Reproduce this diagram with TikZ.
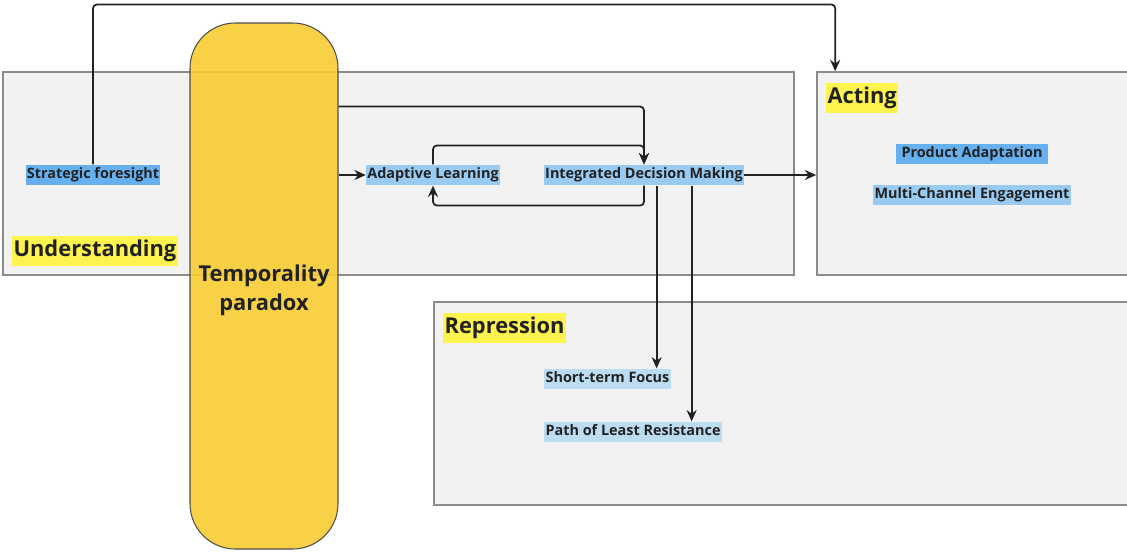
\documentclass[tikz,border=0pt]{standalone}
\usepackage{fontspec}
\setmainfont{Open Sans}
\usetikzlibrary{arrows.meta,calc,positioning,fit}
\definecolor{panelgray}{HTML}{F2F2F2}
\definecolor{panelline}{HTML}{8C8C8C}
\definecolor{hiyellow}{HTML}{FFF44F}
\definecolor{pillaryellow}{HTML}{F8CC33}
\definecolor{blueA}{HTML}{66B0F0}
\definecolor{blueB}{HTML}{98CAF2}
\definecolor{blueC}{HTML}{BCDCF2}
\definecolor{inkdark}{HTML}{222222}

\begin{document}
\begin{tikzpicture}[x=0.75pt, y=-0.75pt,
  panel/.style={draw=panelline, fill=panelgray, line width=1.2pt, inner sep=0pt},
  pillar/.style={draw=inkdark!80, line width=0.8pt, fill=pillaryellow, fill opacity=0.9,
    rounded corners=34pt, inner sep=0pt},
  ptext/.style={align=center, font=\fontsize{16.4}{21.5}\selectfont\bfseries, text=inkdark},
  lab/.style={inner xsep=1pt, inner ysep=2.5pt, text height=8pt, text depth=2.5pt,
    font=\fontsize{10.8}{12}\selectfont\bfseries, text=inkdark},
  head/.style={fill=hiyellow, inner xsep=1pt, inner ysep=3pt, text height=12pt, text depth=4pt,
    font=\fontsize{16.4}{19}\selectfont\bfseries, text=inkdark},
  conn/.style={-{Stealth[length=8.5pt,width=7.5pt]}, line width=1.3pt, draw=inkdark,
    rounded corners=3pt}]
\useasboundingbox (0,0) rectangle (1127,551);

% Panels
\node[panel, fit={(3,72) (794,275)}] (und) {};
\node[panel, fit={(817,72) (1140,275)}] (acting) {};
\node[panel, fit={(434,302) (1140,505)}] (repr) {};

% Panel titles
\node[head, anchor=west] (undlab) at (12,251) {Understanding};
\node[head, anchor=west] (actlab) at (826,98) {Acting};
\node[head, anchor=west] (replab) at (443,328) {Repression};

% Labels
\node[lab, fill=blueA] (sf) at (93,175) {Strategic foresight};
\node[lab, fill=blueB] (al) at (433,175) {Adaptive Learning};
\node[lab, fill=blueB] (idm) at (644,175) {Integrated Decision Making};
\node[lab, fill=blueA, inner xsep=4pt] (pa) at (972,154) {Product Adaptation};
\node[lab, fill=blueB] (mce) at (972,195) {Multi-Channel Engagement};
\node[lab, fill=blueC, anchor=west] (stf) at (544,379) {Short-term Focus};
\node[lab, fill=blueC, anchor=west] (plr) at (544,432) {Path of Least Resistance};

% Pillar on top
\node[pillar, fit={(190,23) (338,549)}] (pillar) {};
\node[ptext] (tp) at (264,290) {Temporality\\paradox};

% Connectors
\coordinate (acttop) at ($(acting.north west)+(19,0)$);
\draw[conn] (sf.north) -- ++(0,-160) -| (acttop);
\draw[conn] ($(pillar.north east)+(0,84)$) -| (idm.north);
\draw[conn] (pillar.east |- al.west) -- (al.west);
\draw[conn] (al.north) -- ++(0,-19) -| (idm.north);
\draw[conn] (idm.south) -- ++(0,20) -| (al.south);
\draw[conn] (idm.east) -- (acting.west |- idm.east);
\coordinate (d1) at ($(idm.south west)+(113,0)$);
\coordinate (d2) at ($(idm.south west)+(148,0)$);
\draw[conn] (d1) -- (d1 |- stf.north);
\draw[conn] (d2) -- (d2 |- plr.north);

\end{tikzpicture}
\end{document}
